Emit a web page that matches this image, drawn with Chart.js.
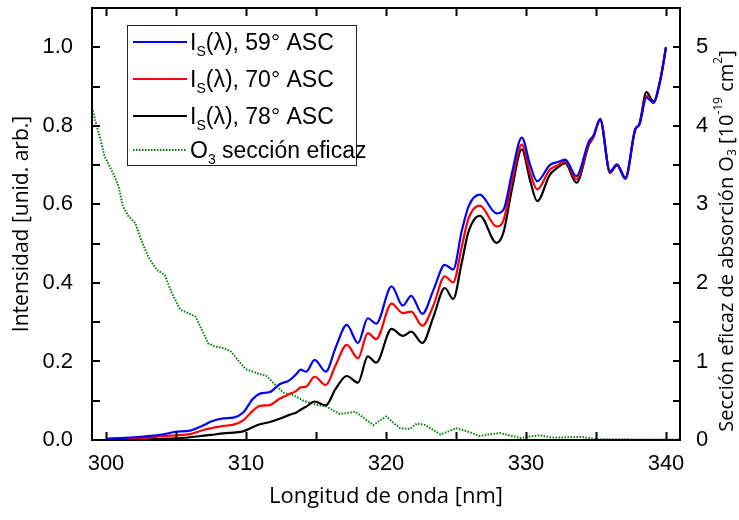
<!DOCTYPE html>
<html>
<head>
<meta charset="utf-8">
<script src="https://cdn.jsdelivr.net/npm/chart.js@4"></script>
<style>
  html, body { margin: 0; padding: 0; background: #fff; }
  #wrap { width: 739px; height: 520px; }
</style>
</head>
<body>
<div id="wrap"><canvas id="chart" width="739" height="520"></canvas></div>
<script>
// wavelength grid [nm] for the three measured spectra
const wavelengths = [
  300, 301, 302, 303, 304, 305, 306, 307, 307.5, 308.4, 309.1, 309.8, 310.5, 311,
  311.7, 312.4, 313.1, 313.6, 313.9, 314.3, 314.9, 315.7, 316.4, 317.2, 318.0,
  318.7, 319.3, 320.4, 321.2, 321.8, 322.6, 323.4, 324.2, 324.8, 325.4, 325.9,
  326.7, 327.9, 328.4, 329.0, 329.7, 330.3, 330.8, 331.7, 332.3, 332.8, 333.6,
  334.5, 334.8, 335.3, 336.0, 336.5, 337.1, 337.8, 338.1, 338.6, 339.1, 339.6, 340
];

const sza59 = [
  0.003, 0.005, 0.007, 0.010, 0.014, 0.021, 0.024, 0.038, 0.047, 0.055, 0.057, 0.070, 0.105, 0.118,
  0.122, 0.142, 0.152, 0.168, 0.179, 0.174, 0.204, 0.174, 0.235, 0.293, 0.247,
  0.310, 0.296, 0.391, 0.342, 0.367, 0.321, 0.383, 0.446, 0.434, 0.530, 0.595,
  0.625, 0.577, 0.587, 0.680, 0.770, 0.700, 0.659, 0.700, 0.708, 0.714, 0.672,
  0.761, 0.774, 0.816, 0.684, 0.702, 0.668, 0.791, 0.804, 0.872, 0.859, 0.918, 1.0
];

const sza70 = [
  0.002, 0.003, 0.004, 0.006, 0.010, 0.012, 0.015, 0.026, 0.030, 0.036, 0.039, 0.050, 0.075, 0.087,
  0.089, 0.105, 0.117, 0.125, 0.134, 0.136, 0.161, 0.140, 0.190, 0.242, 0.208,
  0.272, 0.257, 0.347, 0.323, 0.327, 0.291, 0.344, 0.417, 0.401, 0.490, 0.565,
  0.597, 0.544, 0.560, 0.660, 0.752, 0.680, 0.638, 0.688, 0.700, 0.710, 0.664,
  0.755, 0.770, 0.814, 0.682, 0.700, 0.667, 0.790, 0.803, 0.876, 0.858, 0.918, 1.0
];

const sza78 = [
  0.001, 0.001, 0.002, 0.002, 0.003, 0.004, 0.007, 0.011, 0.013, 0.017, 0.019, 0.022, 0.033, 0.040,
  0.046, 0.054, 0.064, 0.070, 0.077, 0.085, 0.098, 0.088, 0.130, 0.163, 0.146,
  0.213, 0.197, 0.283, 0.265, 0.276, 0.247, 0.315, 0.387, 0.359, 0.450, 0.531,
  0.571, 0.502, 0.530, 0.640, 0.740, 0.660, 0.608, 0.675, 0.695, 0.705, 0.655,
  0.752, 0.770, 0.818, 0.680, 0.700, 0.665, 0.790, 0.805, 0.886, 0.862, 0.918, 1.0
];

// O3 cross section [1e-19 cm2], right axis
const o3Wavelengths = [
  299.0, 299.3, 299.6, 299.9, 300.5, 300.9, 301.2, 301.6, 302.1, 302.5, 303.0, 303.6,
  304.2, 304.7, 305.3, 305.8, 306.4, 306.8, 307.3, 307.8, 308.4, 308.9, 309.6, 310.0,
  310.8, 311.5, 312.0, 312.7, 313.4, 314.1, 315.0, 315.7, 316.2, 316.7, 317.8, 319.1,
  320.0, 321.0, 321.7, 322.2, 322.8, 323.9, 325.0, 325.8, 326.7, 328.1, 329.6, 330.5,
  331.0, 332.0, 334.0, 335.0, 337.0, 338.0, 340.0, 341.0
];
const o3Cross = [
  4.23, 4.02, 3.83, 3.61, 3.40, 3.23, 2.98, 2.85, 2.76, 2.55, 2.34, 2.17,
  2.10, 1.87, 1.66, 1.62, 1.57, 1.42, 1.23, 1.19, 1.17, 1.13, 0.98, 0.90,
  0.85, 0.81, 0.72, 0.60, 0.57, 0.50, 0.45, 0.43, 0.38, 0.33, 0.36, 0.19,
  0.30, 0.15, 0.14, 0.21, 0.19, 0.07, 0.15, 0.11, 0.05, 0.09, 0.025, 0.05,
  0.06, 0.03, 0.04, 0.01, 0.01, 0.005, 0.005, 0.005
];

const xMajor = [300, 310, 320, 330, 340];
const xMinor = [305, 315, 325, 335];
const yLeftTicks = [0, 0.1, 0.2, 0.3, 0.4, 0.5, 0.6, 0.7, 0.8, 0.9, 1.0];
const yRightTicks = [0, 0.5, 1, 1.5, 2, 2.5, 3, 3.5, 4, 4.5, 5];

const TICK_FONT = { family: "'Liberation Sans', Arial, sans-serif", size: 22 };
const TITLE_FAMILY = "'Open Sans', 'DejaVu Sans', sans-serif";

function pairs(xs, ys) {
  return xs.map((x, i) => ({ x: x, y: ys[i] }));
}

// no extra room for half labels at the ends of the axes
function noEndPadding(scale) {
  scale.paddingTop = 0;
  scale.paddingBottom = 0;
  scale.paddingLeft = 0;
  scale.paddingRight = 0;
}

// draw text pieces with sub/superscripts, starting at x (baseline y)
function richWidth(ctx, segs, size, family) {
  let w = 0;
  segs.forEach((s) => {
    ctx.font = `${Math.round(size * (s.scale || 1))}px ${family}`;
    w += ctx.measureText(s.t).width;
  });
  return w;
}
function drawRich(ctx, segs, x, y, size, family) {
  segs.forEach((s) => {
    const fs = Math.round(size * (s.scale || 1));
    ctx.font = `${fs}px ${family}`;
    ctx.fillText(s.t, x, y + (s.dy || 0) * size);
    x += ctx.measureText(s.t).width;
  });
}

const frameAndTicks = {
  id: "frameAndTicks",
  afterDatasetsDraw(chart) {
    const { ctx, chartArea: a, scales } = chart;
    const L = 8;
    ctx.save();
    ctx.strokeStyle = "#000";
    ctx.lineWidth = 2;
    ctx.beginPath();
    xMajor.concat(xMinor).forEach((v) => {
      const px = Math.round(scales.x.getPixelForValue(v)) + 0.5;
      ctx.moveTo(px, a.bottom);
      ctx.lineTo(px, a.bottom - L);
      ctx.moveTo(px, a.top);
      ctx.lineTo(px, a.top + L);
    });
    yLeftTicks.forEach((v) => {
      const py = Math.round(scales.y.getPixelForValue(v));
      ctx.moveTo(a.left, py);
      ctx.lineTo(a.left + L, py);
    });
    yRightTicks.forEach((v) => {
      const py = Math.round(scales.y2.getPixelForValue(v));
      ctx.moveTo(a.right, py);
      ctx.lineTo(a.right - 7, py);
    });
    ctx.stroke();
    ctx.strokeRect(a.left, a.top, a.right - a.left, a.bottom - a.top);
    ctx.restore();
  },
};

const richLegend = {
  id: "richLegend",
  afterDraw(chart) {
    const { ctx } = chart;
    const fam = "'Liberation Sans', Arial, sans-serif";
    const rows = [
      { color: "#0000ff", dash: [], segs: [{ t: "I" }, { t: "S", scale: 0.62, dy: 0.28 }, { t: "(λ), 59° ASC" }] },
      { color: "#ff0000", dash: [], segs: [{ t: "I" }, { t: "S", scale: 0.62, dy: 0.28 }, { t: "(λ), 70° ASC" }] },
      { color: "#000000", dash: [], segs: [{ t: "I" }, { t: "S", scale: 0.62, dy: 0.28 }, { t: "(λ), 78° ASC" }] },
      { color: "#008000", dash: [1.5, 1.5], segs: [{ t: "O" }, { t: "3", scale: 0.62, dy: 0.28 }, { t: " sección eficaz" }] },
    ];
    const rowY = [42, 79, 116, 150];
    ctx.save();
    ctx.fillStyle = "#fff";
    ctx.fillRect(127.5, 25.5, 229, 140);
    ctx.strokeStyle = "#222";
    ctx.lineWidth = 1;
    ctx.strokeRect(127.5, 25.5, 229, 140);
    rows.forEach((r, i) => {
      const y = rowY[i];
      ctx.strokeStyle = r.color;
      ctx.lineWidth = 2;
      ctx.setLineDash(r.dash);
      ctx.beginPath();
      ctx.moveTo(133, y);
      ctx.lineTo(187, y);
      ctx.stroke();
      ctx.setLineDash([]);
      ctx.fillStyle = "#000";
      ctx.textBaseline = "alphabetic";
      drawRich(ctx, r.segs, 190, y + 8, 23, fam);
    });
    ctx.restore();
  },
};

const rightTitle = {
  id: "rightTitle",
  afterDraw(chart) {
    const { ctx } = chart;
    const segs = [
      { t: "Sección eficaz de absorción O" },
      { t: "3", scale: 0.6, dy: 0.3 },
      { t: " [10" },
      { t: "-19", scale: 0.6, dy: -0.4 },
      { t: " cm" },
      { t: "2", scale: 0.6, dy: -0.4 },
      { t: "]" },
    ];
    const size = 20;
    ctx.save();
    ctx.fillStyle = "#000";
    ctx.textBaseline = "middle";
    const w = richWidth(ctx, segs, size, TITLE_FAMILY);
    ctx.translate(727, 241);
    ctx.rotate(-Math.PI / 2);
    drawRich(ctx, segs, -w / 2, 0, size, TITLE_FAMILY);
    ctx.restore();
  },
};

new Chart(document.getElementById("chart"), {
  type: "line",
  data: {
    datasets: [
      {
        label: "IS(λ), 59° ASC",
        data: pairs(wavelengths, sza59),
        borderColor: "#0000ff",
        borderWidth: 2.2,
        yAxisID: "y",
      },
      {
        label: "IS(λ), 70° ASC",
        data: pairs(wavelengths, sza70),
        borderColor: "#ff0000",
        borderWidth: 2.2,
        yAxisID: "y",
      },
      {
        label: "IS(λ), 78° ASC",
        data: pairs(wavelengths, sza78),
        borderColor: "#000000",
        borderWidth: 2.2,
        yAxisID: "y",
      },
      {
        label: "O3 sección eficaz",
        data: pairs(o3Wavelengths, o3Cross),
        borderColor: "#008000",
        borderWidth: 2,
        borderDash: [1.5, 1.5],
        cubicInterpolationMode: "default",
        tension: 0,
        yAxisID: "y2",
      },
    ],
  },
  options: {
    responsive: false,
    animation: false,
    devicePixelRatio: 1,
    layout: { padding: { top: 8, left: 0, right: 0, bottom: 0 } },
    elements: {
      point: { radius: 0 },
      line: { cubicInterpolationMode: "monotone", fill: false },
    },
    plugins: {
      legend: { display: false },
      tooltip: { enabled: false },
    },
    scales: {
      x: {
        type: "linear",
        position: "bottom",
        min: 299,
        max: 341,
        grid: { display: false },
        border: { display: false },
        ticks: {
          stepSize: 10,
          includeBounds: false,
          color: "#000",
          font: TICK_FONT,
          padding: 3,
          maxRotation: 0,
        },
        title: {
          display: true,
          text: "Longitud de onda [nm]",
          color: "#000",
          font: { family: TITLE_FAMILY, size: 22 },
          padding: { top: 0, bottom: 10 },
        },
        afterFit(scale) {
          scale.height = 80;
          noEndPadding(scale);
        },
      },
      y: {
        type: "linear",
        position: "left",
        min: 0,
        max: 1.1,
        grid: { display: false },
        border: { display: false },
        ticks: {
          stepSize: 0.2,
          includeBounds: false,
          color: "#000",
          font: TICK_FONT,
          padding: 11,
          callback: (v) => v.toFixed(1),
        },
        title: {
          display: true,
          text: "Intensidad [unid. arb.]",
          color: "#000",
          font: { family: TITLE_FAMILY, size: 21 },
          padding: { top: 9, bottom: 0 },
        },
        afterFit(scale) {
          scale.width = 92;
          noEndPadding(scale);
        },
      },
      y2: {
        type: "linear",
        position: "right",
        min: 0,
        max: 5.5,
        grid: { display: false },
        border: { display: false },
        ticks: {
          stepSize: 1,
          includeBounds: false,
          color: "#000",
          font: TICK_FONT,
          padding: 8,
        },
        afterFit(scale) {
          scale.width = 59;
          noEndPadding(scale);
        },
      },
    },
  },
  plugins: [frameAndTicks, richLegend, rightTitle],
});
</script>
</body>
</html>
